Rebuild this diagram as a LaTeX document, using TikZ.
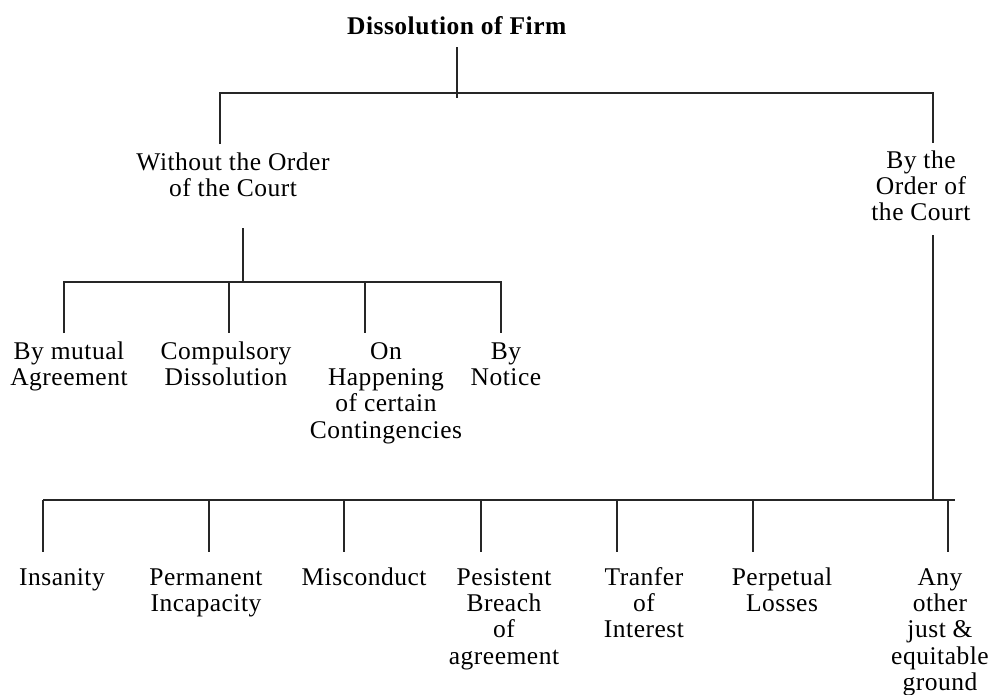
\documentclass[tikz,border=0pt]{standalone}
\usepackage{fontspec}
\setmainfont{Liberation Serif}[LetterSpace=2]
\newcommand\lbl[1]{\vtop{\baselineskip=26.4pt\lineskiplimit=-20pt\halign{\hfil##\hfil\cr#1\crcr}}}
\begin{document}
\begin{tikzpicture}[x=1pt,y=-1pt,
  txt/.style={anchor=base,inner sep=0pt,font=\fontsize{25.5}{26.4}\selectfont},
  conn/.style={line width=2pt,draw=black!85,line join=miter}]
\useasboundingbox[fill=white] (0,0) rectangle (991,694);
% text nodes
\node[txt] (title) at (457,34) {\textbf{Dissolution of Firm}};
\node[txt] (without) at (233,170) {\lbl{Without the Order\cr of the Court}};
\node[txt] (bycourt) at (921,168) {\lbl{By the\cr Order of\cr the Court}};
\node[txt] (mutual) at (69,359) {\lbl{By mutual\cr Agreement}};
\node[txt] (compulsory) at (226,359) {\lbl{Compulsory\cr Dissolution}};
\node[txt] (happening) at (386,359) {\lbl{On\cr Happening\cr of certain\cr Contingencies}};
\node[txt] (notice) at (506,359) {\lbl{By\cr Notice}};
\node[txt] (insanity) at (62,585) {\lbl{Insanity}};
\node[txt] (permanent) at (206,585) {\lbl{Permanent\cr Incapacity}};
\node[txt] (misconduct) at (364,585) {\lbl{Misconduct}};
\node[txt] (breach) at (504,585) {\lbl{Pesistent\cr Breach\cr of\cr agreement}};
\node[txt] (tranfer) at (644,585) {\lbl{Tranfer\cr of\cr Interest}};
\node[txt] (perpetual) at (782,585) {\lbl{Perpetual\cr Losses}};
\node[txt] (anyother) at (940,585) {\lbl{Any\cr other\cr just \&\cr equitable\cr ground}};
% connector points
\coordinate (tA) at (457,47);  \coordinate (tB) at (457,98);
\coordinate (wA) at (220,144); \coordinate (wB) at (220,93);
\coordinate (cB) at (933,93);  \coordinate (cA) at (933,143);
\coordinate (wC) at (243,228); \coordinate (wD) at (243,282);
\coordinate (mA) at (64,333);  \coordinate (mB) at (64,282);
\coordinate (nB) at (501,282); \coordinate (nA) at (501,333);
\coordinate (pB) at (229,282); \coordinate (pA) at (229,333);
\coordinate (hB) at (365,282); \coordinate (hA) at (365,333);
\coordinate (cC) at (933,235); \coordinate (cD) at (933,500);
\coordinate (bL) at (43,500);  \coordinate (bR) at (955,500);
% connectors
\draw[conn] (tA) -- (tB);
\draw[conn] (wA) -- (wB) -- (cB) -- (cA);
\draw[conn] (wC) -- (wD);
\draw[conn] (mA) -- (mB) -- (nB) -- (nA);
\draw[conn] (pB) -- (pA);
\draw[conn] (hB) -- (hA);
\draw[conn] (cC) -- (cD);
\draw[conn] (bL) -- (bR);
\foreach \n/\x in {insanity/43,permanent/209,misconduct/344,breach/481,tranfer/617,perpetual/753,anyother/948}{
  \coordinate (\n top) at (\x,500);
  \coordinate (\n bot) at (\x,552);
  \draw[conn] (\n top) -- (\n bot);
}
\end{tikzpicture}
\end{document}
